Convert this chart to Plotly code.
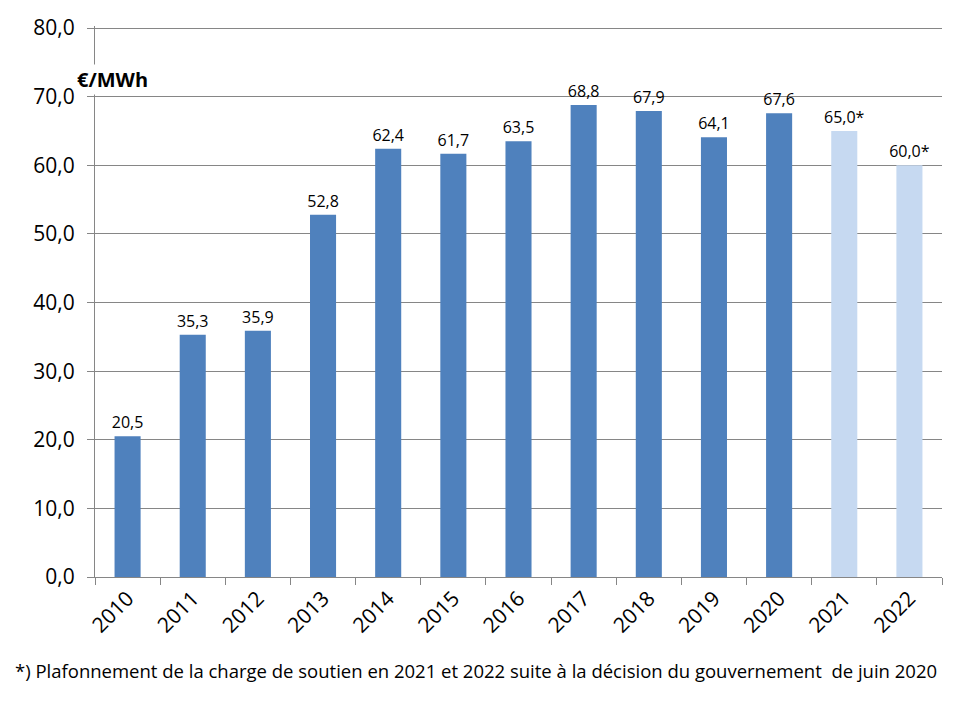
import plotly.graph_objects as go

# CSPE support charge per MWh, 2021-2022 capped values
years = ['2010', '2011', '2012', '2013', '2014', '2015', '2016',
         '2017', '2018', '2019', '2020', '2021', '2022']
values = [20.5, 35.3, 35.9, 52.8, 62.4, 61.7, 63.5, 68.8, 67.9, 64.1, 67.6, 65.0, 60.0]
labels = ['20,5', '35,3', '35,9', '52,8', '62,4', '61,7', '63,5',
          '68,8', '67,9', '64,1', '67,6', '65,0*', '60,0*']
capped = [False] * 11 + [True, True]

y_ticks = [0, 10, 20, 30, 40, 50, 60, 70, 80]
y_tick_text = ['0,0', '10,0', '20,0', '30,0', '40,0', '50,0', '60,0', '70,0', '80,0']

colors = ['#C6D9F1' if c else '#4F81BD' for c in capped]

fig = go.Figure(go.Bar(x=years, y=values, width=0.4, marker_color=colors,
                       marker_line_width=0, text=labels, textposition='outside',
                       constraintext='none',
                       textfont=dict(size=16, color='black'), cliponaxis=False))

grey = '#868686'
fig.update_layout(
    width=960, height=720, plot_bgcolor='white', paper_bgcolor='white',
    margin=dict(l=87, r=26, t=18, b=151),
    font=dict(family='Open Sans, Noto Sans, sans-serif', color='black'),
    showlegend=False,
)
fig.update_xaxes(type='category', tickangle=-45, tickfont=dict(size=21),
                 showline=True, linecolor=grey, linewidth=1, automargin=False,
                 ticks='outside', tickson='boundaries', ticklen=7, tickcolor=grey)
fig.update_yaxes(range=[0, 80.3], tickvals=y_ticks, ticktext=y_tick_text,
                 tickfont=dict(size=21), showgrid=True, gridcolor=grey, gridwidth=1,
                 showline=True, linecolor=grey, linewidth=1, automargin=False,
                 ticks='outside', ticklen=7, tickcolor=grey, zeroline=False,
                 ticklabelstandoff=8)

fig.add_annotation(text='<b>€/MWh</b>', xref='paper', yref='paper', x=-0.024, y=0.931,
                   showarrow=False, font=dict(size=20), bgcolor='white')
fig.add_annotation(text='*) Plafonnement de la charge de soutien en 2021 et 2022 suite à la décision du gouvernement  de juin 2020',
                   xref='paper', yref='paper', x=0.45, y=-0.17, yanchor='middle',
                   xanchor='center', showarrow=False, font=dict(size=18.5))

fig.write_html('out.html')
